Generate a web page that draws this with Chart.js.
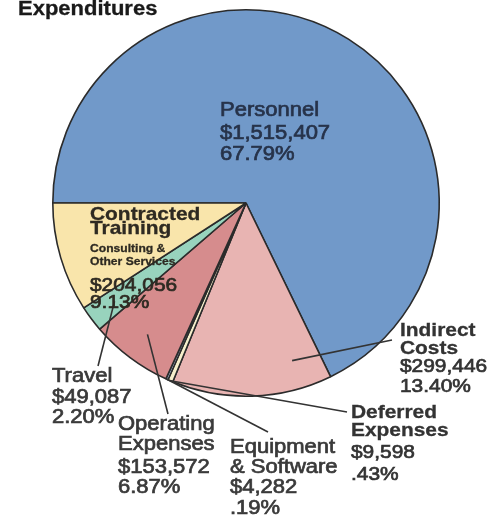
<!DOCTYPE html>
<html>
<head>
<meta charset="utf-8">
<script src="https://cdn.jsdelivr.net/npm/chart.js@4.4.1/dist/chart.umd.min.js"></script>
<style>
  html, body { margin: 0; padding: 0; background: #fff; }
  canvas { display: block; }
</style>
</head>
<body>
<canvas id="pieChart" width="488" height="519"></canvas>
<script>
// chart values
const categories = ['Personnel', 'Indirect\nCosts', 'Deferred\nExpenses', 'Equipment\n& Software',
  'Operating\nExpenses', 'Travel', 'Contracted\nTraining'];
const amounts = [1515407, 299446, 9598, 4282, 153572, 49087, 204056];
const percentLabels = ['67.79%', '13.40%', '.43%', '.19%', '6.87%', '2.20%', '9.13%'];
const subNotes = ['', '', '', '', '', '', 'Consulting &\nOther Services'];
const sliceColors = ['#7199c9', '#e8b4b2', '#f6efcb', '#b4cbe9', '#d68c8d', '#98d3bd', '#f9e5ab'];

// where each label sits and where its leader line ends
const labelLayout = [
  { x: 220, base: [116, 139, 160], bold: false, size: 20, color: '#27334a' },
  { x: 400, base: [336, 354, 372, 392], bold: true, size: 19, color: '#333', lead: { t: 0.2, f: 0.85, x: 392, y: 340 } },
  { x: 351, base: [418, 436, 458, 480], bold: true, size: 19, color: '#333', lead: { t: 0.5, f: 1.0, x: 347, y: 412 } },
  { x: 230, base: [453, 473, 493, 514], bold: false, size: 20, color: '#3a3a3a', lead: { t: 0.5, f: 1.0, x: 268, y: 432 } },
  { x: 118, base: [430, 450, 473, 493], bold: false, size: 20, color: '#3a3a3a', lead: { t: 0.5, f: 0.85, x: 168, y: 414 } },
  { x: 52, base: [382, 403, 423], bold: false, size: 20, color: '#3a3a3a', lead: { t: 0.5, f: 0.85, x: 98, y: 366 } },
  { x: 90, base: [220, 234, 291, 308], sub: [252, 265], bold: true, size: 19, color: '#2e2a22' }
];

const FONT = '"Liberation Sans", Arial, sans-serif';
const SX = 1.1;

function drawText(ctx, text, x, y, font, color, heavy) {
  ctx.save();
  ctx.font = font;
  ctx.fillStyle = color;
  ctx.strokeStyle = color;
  ctx.lineWidth = heavy || 0;
  ctx.translate(x, y);
  ctx.scale(SX, 1);
  ctx.fillText(text, 0, 0);
  if (heavy) ctx.strokeText(text, 0, 0);
  ctx.restore();
}

function money(v) {
  return '$' + v.toLocaleString('en-US');
}

const labelPlugin = {
  id: 'sliceLabels',
  afterDraw(c) {
    const ctx = c.ctx;
    const arcs = c.getDatasetMeta(0).data;
    ctx.save();
    ctx.textBaseline = 'alphabetic';
    ctx.textAlign = 'left';

    drawText(ctx, 'Expenditures', 18, 15, 'bold 20px ' + FONT, '#1a1a1a', 0.3);

    // leader lines
    ctx.strokeStyle = '#333';
    ctx.lineWidth = 1.6;
    labelLayout.forEach((L, i) => {
      if (!L.lead) return;
      const a = arcs[i];
      const ang = a.startAngle + (a.endAngle - a.startAngle) * L.lead.t;
      const r = a.outerRadius * L.lead.f;
      ctx.beginPath();
      ctx.moveTo(a.x + Math.cos(ang) * r, a.y + Math.sin(ang) * r);
      ctx.lineTo(L.lead.x, L.lead.y);
      ctx.stroke();
    });

    // label text
    labelLayout.forEach((L, i) => {
      const names = categories[i].split('\n');
      const nameFont = (L.bold ? 'bold ' : '') + L.size + 'px ' + FONT;
      const valFont = L.size + 'px ' + FONT;
      let k = 0;
      names.forEach(n => drawText(ctx, n, L.x, L.base[k++], nameFont, L.color, L.bold ? 0.3 : 0.7));
      if (L.sub) {
        subNotes[i].split('\n').forEach((s, j) =>
          drawText(ctx, s, L.x, L.sub[j], 'bold 11px ' + FONT, L.color, 0.3));
      }
      drawText(ctx, money(amounts[i]), L.x, L.base[k++], valFont, L.color, 0.7);
      drawText(ctx, percentLabels[i], L.x, L.base[k++], valFont, L.color, 0.7);
    });
    ctx.restore();
  }
};

let chart;
function drawChart() {
  const ctx = document.getElementById('pieChart').getContext('2d');
  if (chart) chart.destroy();
  chart = new Chart(ctx, {
    type: 'pie',
    data: {
      labels: categories,
      datasets: [{
        data: amounts,
        backgroundColor: sliceColors,
        borderColor: '#2b2b2b',
        borderWidth: 1.6
      }]
    },
    options: {
      responsive: false,
      animation: false,
      rotation: -90,
      layout: { padding: { left: 52, right: 48, top: 9, bottom: 122 } },
      plugins: {
        legend: { display: false },
        tooltip: { enabled: false }
      }
    },
    plugins: [labelPlugin]
  });
}

drawChart();
</script>
</body>
</html>
